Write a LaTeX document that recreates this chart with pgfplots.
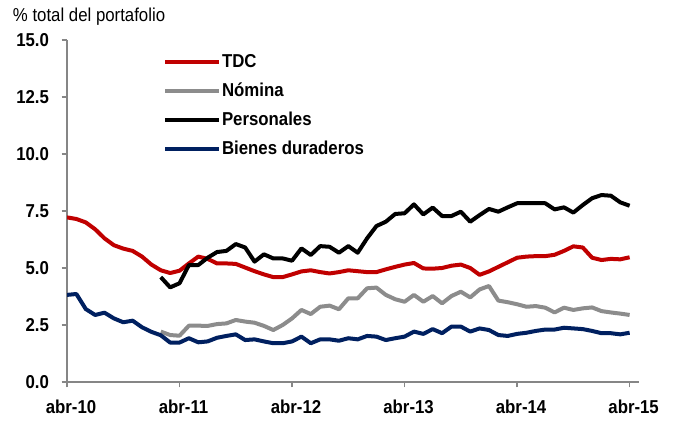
\documentclass[border=0pt]{standalone}
\usepackage{fontspec}
\setmainfont{Liberation Sans}[FakeStretch=0.9]
\usepackage{pgfplots}
\usepackage{pgfplotstable}
\pgfplotsset{compat=1.18}
\definecolor{tdc}{HTML}{C00000}
\definecolor{nom}{HTML}{8C8C8C}
\definecolor{bd}{HTML}{002060}
\definecolor{axgray}{HTML}{868686}
\pgfplotstableread{
m tdc nom per bd
0 7.22 nan nan 3.82
1 7.15 nan nan 3.86
2 7.00 nan nan 3.20
3 6.70 nan nan 2.94
4 6.30 nan nan 3.04
5 6.00 nan nan 2.79
6 5.85 nan nan 2.62
7 5.75 nan nan 2.69
8 5.50 nan nan 2.40
9 5.15 nan nan 2.20
10 4.90 2.21 4.60 2.05
11 4.78 2.06 4.15 1.73
12 4.88 2.03 4.33 1.73
13 5.20 2.47 5.13 1.92
14 5.50 2.47 5.13 1.74
15 5.40 2.46 5.45 1.78
16 5.20 2.54 5.70 1.94
17 5.20 2.57 5.75 2.02
18 5.18 2.72 6.05 2.09
19 5.02 2.65 5.90 1.84
20 4.86 2.60 5.28 1.87
21 4.72 2.46 5.60 1.78
22 4.60 2.28 5.42 1.70
23 4.60 2.50 5.42 1.70
24 4.72 2.79 5.32 1.78
25 4.85 3.16 5.86 1.99
26 4.90 2.98 5.57 1.70
27 4.82 3.30 5.96 1.87
28 4.76 3.35 5.93 1.87
29 4.82 3.19 5.67 1.81
30 4.90 3.67 5.96 1.92
31 4.86 3.67 5.67 1.87
32 4.82 4.11 6.30 2.02
33 4.82 4.14 6.84 1.99
34 4.94 3.82 7.03 1.84
35 5.05 3.63 7.37 1.92
36 5.15 3.52 7.40 1.99
37 5.22 3.82 7.79 2.21
38 4.98 3.52 7.35 2.11
39 4.97 3.77 7.65 2.32
40 5.00 3.45 7.28 2.14
41 5.10 3.77 7.28 2.43
42 5.15 3.96 7.47 2.43
43 5.00 3.71 7.03 2.21
44 4.70 4.06 7.32 2.35
45 4.85 4.21 7.59 2.28
46 5.05 3.57 7.47 2.06
47 5.25 3.50 7.66 2.02
48 5.45 3.41 7.84 2.11
49 5.50 3.30 7.84 2.16
50 5.52 3.33 7.84 2.24
51 5.52 3.26 7.84 2.30
52 5.58 3.05 7.57 2.30
53 5.75 3.26 7.66 2.38
54 5.95 3.16 7.43 2.35
55 5.90 3.23 7.76 2.32
56 5.45 3.27 8.06 2.24
57 5.35 3.11 8.20 2.14
58 5.40 3.05 8.17 2.14
59 5.38 3.00 7.88 2.09
60 5.47 2.94 7.73 2.16
}\datatable
\begin{document}
\begin{tikzpicture}[font=\fontsize{14}{16}\selectfont]
\useasboundingbox (0,0) rectangle (508.5pt,315.75pt);
\node[anchor=west,inner sep=0pt] at (9.5pt,303pt) {\% total del portafolio};
\begin{axis}[
  at={(50.25pt,29.25pt)}, anchor=south west,
  scale only axis, width=429pt, height=256.5pt,
  xmin=0, xmax=61, ymin=0, ymax=15,
  axis x line=bottom, axis y line=left,
  axis line style={-, draw=axgray, line width=1pt},
  tick style={draw=axgray, line width=1pt},
  tick align=outside, major tick length=4pt,
  xtick={0,12,24,36,48,60},
  xticklabels={abr-10,abr-11,abr-12,abr-13,abr-14,abr-15},
  ytick={0,2.5,5,7.5,10,12.5,15},
  yticklabel style={/pgf/number format/fixed, /pgf/number format/fixed zerofill, /pgf/number format/precision=1, xshift=-6pt},
  ticklabel style={font=\bfseries\fontsize{14}{16}\selectfont},
  /pgf/number format/assume math mode=true,
  xticklabel style={yshift=-6pt, xshift=3pt},
  legend style={at={(0.161,0.976)}, anchor=north west, draw=none, fill=none,
    font=\bfseries\fontsize{14}{16}\selectfont, row sep=5.75pt,
    nodes={inner sep=1pt, text height=11pt, text depth=3pt}},
  legend cell align=left,
  legend image code/.code={\draw[#1] (0pt,0pt) -- (40pt,0pt);},
  every axis plot/.append style={line width=3pt, line join=round},
]
\addplot[tdc] table[x=m,y=tdc] {\datatable};
\addlegendentry{TDC}
\addplot[nom] table[x=m,y=nom] {\datatable};
\addlegendentry{Nómina}
\addplot[black] table[x=m,y=per] {\datatable};
\addlegendentry{Personales}
\addplot[bd] table[x=m,y=bd] {\datatable};
\addlegendentry{Bienes duraderos}
\end{axis}
\end{tikzpicture}
\end{document}
